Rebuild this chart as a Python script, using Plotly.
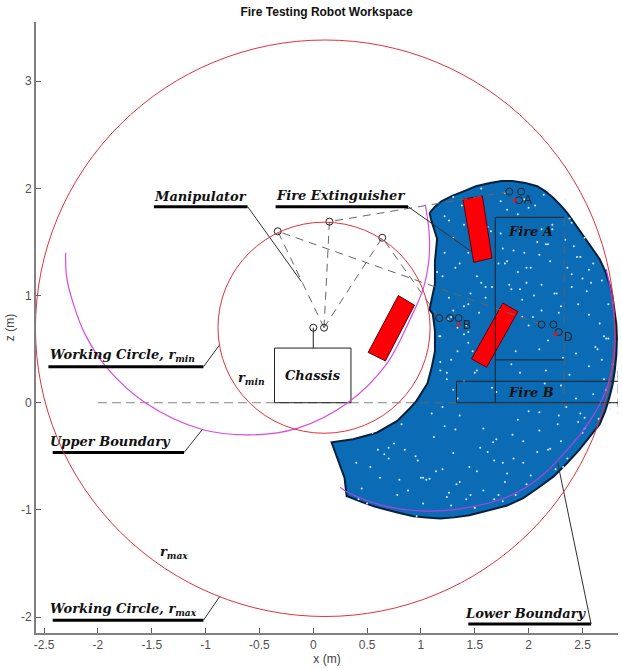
import plotly.graph_objects as go

title = "Fire Testing Robot Workspace"
xticks = [-2.5, -2, -1.5, -1, -0.5, 0, 0.5, 1, 1.5, 2, 2.5]
zticks = [-2, -1, 0, 1, 2, 3]

region_x = [1.08,1.13,1.19,1.29,1.39,1.51,1.64,1.75,1.85,1.97,2.08,2.16,2.23,2.30,2.36,2.43,2.50,2.58,2.66,2.71,2.75,2.78,2.80,2.815,2.82,2.815,2.80,2.78,2.75,2.71,2.66,2.57,2.47,2.36,2.23,2.08,1.95,1.80,1.62,1.45,1.31,1.18,1.05,0.93,0.80,0.68,0.57,0.46,0.31,0.29,0.23,0.17,0.37,0.59,0.78,0.90,0.96,1.06,1.10,1.13,1.13,1.11,1.08,1.13,1.13,1.15,1.10,1.08]
region_z = [1.77,1.83,1.88,1.93,1.97,2.02,2.05,2.07,2.07,2.05,2.02,1.97,1.91,1.84,1.77,1.67,1.57,1.46,1.34,1.23,1.11,0.99,0.86,0.73,0.60,0.45,0.30,0.17,0.05,-0.08,-0.20,-0.31,-0.44,-0.56,-0.69,-0.80,-0.89,-0.96,-1.01,-1.05,-1.07,-1.08,-1.07,-1.06,-1.03,-1.00,-0.97,-0.93,-0.87,-0.70,-0.54,-0.37,-0.34,-0.28,-0.17,-0.05,0.02,0.18,0.33,0.48,0.67,0.83,0.87,1.11,1.32,1.53,1.69,1.77]

speck_x = [1.58,1.67,2.20,1.30,1.08,0.97,0.53,1.76,1.58,1.24,0.96,2.27,2.10,1.95,1.22,1.45,1.78,2.02,0.75,0.62,0.45,0.88,1.12,1.36,1.55,1.85,2.30,2.48,2.60,2.38,2.15,1.92,1.70,1.40,1.18,0.82,0.70,0.40,1.02,1.28,1.50,1.72,1.98,2.25,2.52,2.70,2.62,2.44,2.18,1.88,1.62,1.34,1.24,1.18,1.42,1.60,1.82,2.05,2.28,2.46,2.66,2.74,2.58,2.40,2.12,1.90,1.66,1.46,1.26,1.20,1.32,1.52,1.80,1.96,2.20,2.42,2.60,2.72,2.54,2.34,2.08,1.86,1.74,1.48,1.30,1.22,1.26,1.40,1.58,1.74,1.90,2.06,2.22,2.38,2.14,1.96,1.78,1.56,1.38,1.30,1.22,1.44,1.28,1.64,1.84,2.00,2.16,2.32,1.94,1.72,1.52,1.30,2.44,2.56,1.10,1.36,1.76,2.52,0.85,1.05,0.60,1.50,1.95,2.35,2.65,1.15,1.65,2.05,2.45,1.40,1.86,2.26,2.68,0.72,0.92,1.32,1.68,2.12,
           0.36,0.50,0.66,0.80,0.95,1.14,1.33,1.52,1.70,1.90,2.08,2.28,2.50,2.36,2.18,2.00,1.80,1.62,1.42,1.20,1.02,0.86,0.70,0.55,0.42,0.78,1.00,1.26,1.46,1.68,1.88,2.10,2.32,2.46,2.62,2.72,2.76,2.78,2.70,2.56,2.40,2.24,2.04,1.84,1.64,1.44,1.25,1.17,1.34,1.54,1.76,1.98,2.18,2.36,2.52,2.68,2.74,2.64,2.50,2.30,2.10,1.92,1.72,1.56,1.36,1.24,1.18,1.30,1.48,1.64,1.82,2.02,2.22,2.40,2.56,2.48,2.30,2.12,1.94,1.76,1.60,1.44,1.28,1.44,1.62,1.80,2.00,2.20,2.34,2.16,1.98,1.82,1.66,1.50,1.34,1.20,1.40,1.60,1.78,1.92,2.10]
speck_z = [-0.24,-0.37,-0.43,-0.47,-0.71,-0.54,-0.60,-0.56,-0.82,-0.88,-1.06,-0.20,-0.09,-0.56,-0.22,-0.60,-0.74,-0.68,-0.38,-0.70,-0.80,-0.82,-0.32,-0.12,-0.42,-0.30,-0.36,-0.10,0.08,0.26,0.18,0.28,0.10,0.20,0.38,-0.20,-0.52,-0.56,-0.94,-0.96,-0.98,-0.86,-0.76,-0.62,-0.24,0.22,0.52,0.46,0.58,0.48,0.55,0.48,0.28,0.62,0.72,0.98,0.88,1.00,0.84,0.92,0.74,0.92,1.12,1.20,1.10,1.22,1.08,1.02,0.98,1.18,1.26,1.18,1.32,1.40,1.32,1.46,1.30,0.60,1.04,1.52,1.50,1.42,1.58,1.46,1.54,1.40,1.70,1.66,1.72,1.88,1.76,1.84,1.62,1.72,1.94,1.90,1.96,2.00,1.84,1.92,1.74,0.66,0.40,0.46,0.36,0.72,0.30,0.42,0.80,0.66,0.30,0.86,0.04,0.34,-0.10,-0.74,-0.92,-0.14,-0.44,-0.72,-0.44,-0.98,-0.36,-0.04,-0.15,1.22,1.60,-0.90,1.36,0.64,-0.52,1.02,0.40,-0.06,1.04,-0.25,-0.90,1.62,0.08,-0.94,
           -0.48,-0.72,-0.50,-0.64,-0.76,-0.64,-0.34,-0.16,-0.46,-0.12,-0.28,-0.52,-0.44,-0.08,-0.66,-0.46,-0.90,-0.62,-0.70,-0.02,-0.42,-0.28,-0.90,-0.86,-0.70,-0.84,-0.86,-0.54,-0.86,-0.26,-0.60,-0.18,-0.28,0.12,-0.06,0.36,0.62,0.82,1.08,1.02,0.80,1.06,0.70,0.92,0.78,0.62,0.70,0.84,1.44,1.12,1.48,1.26,1.54,1.14,0.60,0.50,1.16,0.90,1.38,1.60,1.30,1.12,1.30,0.22,0.30,0.12,0.48,0.56,0.88,1.26,1.66,1.68,1.24,1.36,0.16,0.86,0.96,0.92,1.08,0.56,0.80,1.40,1.64,1.80,1.82,1.96,1.90,1.48,1.26,1.10,0.14,0.28,0.04,-0.04,0.90,1.54,1.30,1.06,0.50,0.62,0.12]

rmax_center = (0.11, 0.695)
rmax_radius = 2.69
rmin_center = (0.10, 0.70)
rmin_radius = 0.985

upper_x = [-2.30,-2.29,-2.23,-2.12,-1.92,-1.56,-1.03,-0.59,-0.15,0.32,0.68,0.90,1.02,1.07,1.08,1.07,1.04]
upper_z = [1.40,1.17,0.93,0.64,0.33,0,-0.25,-0.30,-0.24,0,0.36,0.78,1.06,1.30,1.51,1.65,1.85]
lower_x = [0.25,0.31,0.65,0.99,1.36,1.80,2.10,2.41,2.60,2.72,2.79,2.80,2.77,2.72]
lower_z = [-0.79,-0.83,-0.96,-1.01,-0.99,-0.88,-0.70,-0.38,-0.12,0.12,0.40,0.70,1.00,1.25]

extinguishers = [
    ([1.39,1.57,1.66,1.49,1.39], [1.90,1.93,1.35,1.31,1.90]),
    ([1.76,1.90,1.61,1.47,1.76], [0.93,0.85,0.33,0.41,0.93]),
    ([0.79,0.94,0.67,0.51,0.79], [1.00,0.91,0.39,0.47,1.00]),
]

arms = [
    ([0.10,-0.33,2.12], [0.70,1.60,0.73]),
    ([0.10,0.15,1.82], [0.70,1.69,1.97]),
    ([0.10,0.64,1.17], [0.70,1.54,0.79]),
]
joint_x = [0,0.10,-0.33,0.15,0.64,1.82,1.93,1.91,1.17,1.27,1.35,2.12,2.23,2.28]
joint_z = [0.70,0.70,1.60,1.69,1.54,1.97,1.97,1.89,0.79,0.79,0.79,0.73,0.73,0.66]
target_x = [1.87,1.35,2.25]
target_z = [1.89,0.73,0.64]
target_names = ["A","B","D"]
target_label_x = [1.99,1.43,2.37]
target_label_z = [1.89,0.73,0.61]

dash_lines = [
    ([-2.0,2.83],[0,0]),
    ([2.33,2.33],[1.73,-0.10]),
    ([2.83,2.83],[0.30,-0.10]),
]
solid_lines = [
    ([2.33,1.69,1.69],[1.73,1.73,0]),
    ([1.69,2.33],[0.40,0.40]),
    ([2.85,1.33,1.33,2.85],[0.20,0.20,0,0]),
    ([-0.36,0.35,0.35,-0.36,-0.36],[0,0,0.51,0.51,0]),
    ([0,0],[0.51,0.70]),
]
leaders = [
    ([-1.48,-0.61,-0.11],[1.83,1.83,1.13]),
    ([-0.35,0.88,1.47],[1.83,1.83,1.41]),
    ([-2.46,-1.02,-0.87],[0.335,0.335,0.54]),
    ([-2.42,-1.20,-1.03],[-0.465,-0.465,-0.25]),
    ([-2.42,-1.02,-0.87],[-2.03,-2.03,-1.81]),
    ([2.58,1.44],[-2.065,-2.065]),
]
lower_leader = ([2.58,2.27],[-2.065,-0.56])

labels = [
    ("Manipulator",-1.05,1.925),("Fire Extinguisher",0.25,1.935),
    ("Working Circle, r<sub>min</sub>",-1.77,0.445),("Upper Boundary",-1.88,-0.36),
    ("Working Circle, r<sub>max</sub>",-1.76,-1.925),("Lower Boundary",1.98,-1.97),
    ("r<sub>max</sub>",-1.29,-1.40),("r<sub>min</sub>",-0.57,0.23),
    ("Chassis",0,0.25),("Fire A",2.02,1.60),("Fire B",2.02,0.10),
]

fig = go.Figure()
fig.add_trace(go.Scatter(x=region_x,y=region_z,mode="lines",fill="toself",fillcolor="#0b6cb5",
                         line=dict(color="#06203c",width=2),hoverinfo="skip"))
fig.add_trace(go.Scatter(x=speck_x,y=speck_z,mode="markers",marker=dict(color="#dff0fb",size=2,line=dict(width=0))))
for ex,ez in extinguishers:
    fig.add_trace(go.Scatter(x=ex,y=ez,mode="lines",fill="toself",fillcolor="#fb0007",line=dict(color="#600000",width=1)))
for ax,az in arms:
    fig.add_trace(go.Scatter(x=ax,y=az,mode="lines",line=dict(color="#666666",width=1,dash="8px,6px")))
for lx,lz in dash_lines:
    fig.add_trace(go.Scatter(x=lx,y=lz,mode="lines",line=dict(color="#666666",width=0.8,dash="9px,5px")))
for lx,lz in solid_lines:
    fig.add_trace(go.Scatter(x=lx,y=lz,mode="lines",line=dict(color="#202020",width=1)))
fig.add_trace(go.Scatter(x=upper_x,y=upper_z,mode="lines",line=dict(color="#d84be0",width=1.2,shape="spline",smoothing=1)))
fig.add_trace(go.Scatter(x=lower_x,y=lower_z,mode="lines",line=dict(color="#a845dc",width=1.2,shape="spline",smoothing=1)))
for lx,lz in leaders:
    fig.add_trace(go.Scatter(x=lx[:2],y=lz[:2],mode="lines",line=dict(color="black",width=3)))
    if len(lx)>2:
        fig.add_trace(go.Scatter(x=lx[1:],y=lz[1:],mode="lines",line=dict(color="#303030",width=1)))
fig.add_trace(go.Scatter(x=lower_leader[0],y=lower_leader[1],mode="lines",line=dict(color="#303030",width=1)))
fig.add_trace(go.Scatter(x=joint_x,y=joint_z,mode="markers",marker=dict(symbol="circle-open",color="#222222",size=7,line=dict(width=1))))
fig.add_trace(go.Scatter(x=target_x,y=target_z,mode="markers",marker=dict(symbol="asterisk-open",color="#d02030",size=5,line=dict(width=0.8,color="#d02030"))))

for name,x,z in zip(target_names,target_label_x,target_label_z):
    fig.add_annotation(x=x,y=z,text=name,showarrow=False,font=dict(family="Liberation Sans",size=12,color="#222222"))
for t,x,z in labels:
    fig.add_annotation(x=x,y=z,text=f"<b><i>{t}</i></b>",showarrow=False,
                       font=dict(family="DejaVu Serif",size=13,color="#111111"))

for c,r in (((rmax_center),rmax_radius),((rmin_center),rmin_radius)):
    fig.add_shape(type="circle",xref="x",yref="y",x0=c[0]-r,x1=c[0]+r,y0=c[1]-r,y1=c[1]+r,
                  line=dict(color="#e0323c",width=1))

axis = dict(showgrid=False,zeroline=False,showline=True,linecolor="#808080",linewidth=2,
            ticks="inside",ticklen=5,tickcolor="#606060",tickwidth=1,
            tickfont=dict(family="Liberation Sans",size=12,color="#505050"),mirror=False)
fig.update_layout(
    width=622,height=668,autosize=False,showlegend=False,plot_bgcolor="white",paper_bgcolor="white",
    margin=dict(l=36,r=4,t=22,b=33),
    title=dict(text=f"<b>{title}</b>",x=0.525,xanchor="center",y=0.982,yanchor="middle",
               font=dict(family="Liberation Sans",size=12,color="#111111")),
    xaxis=dict(axis,range=[-2.575,2.83],tickvals=xticks,ticktext=[f"{v:g}" for v in xticks],ticklabelstandoff=0,
               title=dict(text="x (m)",standoff=3,font=dict(family="Liberation Sans",size=12,color="#404040"))),
    yaxis=dict(axis,range=[-2.149,3.553],tickvals=zticks,ticktext=[f"{v:g}" for v in zticks],
               title=dict(text="z (m)",standoff=4,font=dict(family="Liberation Sans",size=12,color="#404040"))),
)
fig.write_html("out.html",config={"displayModeBar":False},
               post_script="document.documentElement.style.margin='0';document.body.style.margin='0';")
